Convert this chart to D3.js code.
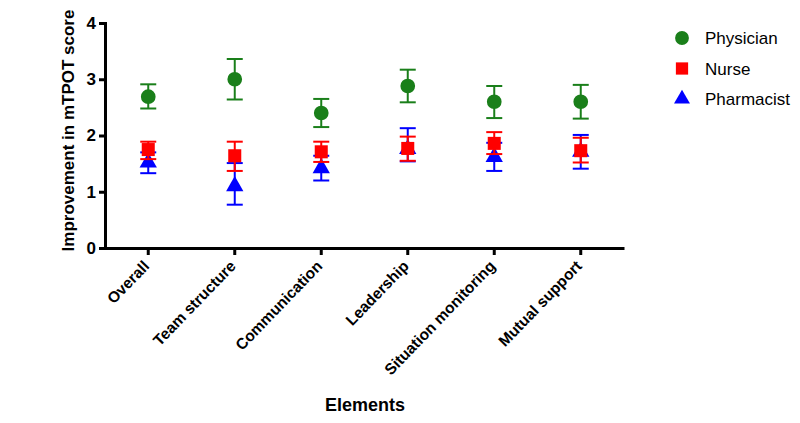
<!DOCTYPE html>
<html>
<head>
<meta charset="utf-8">
<script src="https://cdn.jsdelivr.net/npm/d3@7"></script>
<style>
  body { margin: 0; background: #fff; }
  text { font-family: "Liberation Sans", Arial, sans-serif; }
</style>
</head>
<body>
<div id="chart"></div>
<script>
const elements = ["Overall", "Team structure", "Communication", "Leadership", "Situation monitoring", "Mutual support"];

// mean, lower, upper for each group
const physicianMean = [2.69, 3.00, 2.40, 2.88, 2.60, 2.60];
const physicianLow  = [2.48, 2.64, 2.15, 2.59, 2.31, 2.30];
const physicianHigh = [2.91, 3.36, 2.65, 3.17, 2.88, 2.90];

const nurseMean = [1.75, 1.64, 1.71, 1.77, 1.86, 1.73];
const nurseLow  = [1.58, 1.37, 1.53, 1.55, 1.67, 1.52];
const nurseHigh = [1.89, 1.89, 1.89, 1.98, 2.06, 1.96];

const pharmMean = [1.52, 1.10, 1.42, 1.76, 1.62, 1.71];
const pharmLow  = [1.33, 0.77, 1.20, 1.54, 1.37, 1.41];
const pharmHigh = [1.70, 1.51, 1.64, 2.13, 1.87, 2.01];

const yTicks = [0, 1, 2, 3, 4];

const series = [
  { name: "Physician", color: "#1a7f1a", shape: d3.symbolCircle, mean: physicianMean, low: physicianLow, high: physicianHigh },
  { name: "Nurse", color: "#ff0000", shape: d3.symbolSquare, mean: nurseMean, low: nurseLow, high: nurseHigh },
  { name: "Pharmacist", color: "#0000ff", shape: d3.symbolTriangle, mean: pharmMean, low: pharmLow, high: pharmHigh }
];

const W = 800, H = 423;
const margin = { top: 23, left: 105, right: 176, bottom: 175 };

const svg = d3.select("#chart").append("svg")
  .attr("width", W)
  .attr("height", H);

const x = d3.scaleBand()
  .domain(elements)
  .range([margin.left, W - margin.right]);

const y = d3.scaleLinear()
  .domain([0, 4])
  .range([H - margin.bottom, margin.top]);

// y axis
const yAxis = svg.append("g")
  .attr("transform", `translate(${margin.left},0)`)
  .call(d3.axisLeft(y).tickValues(yTicks).tickFormat(d3.format("d")).tickSize(6).tickPadding(3));
yAxis.select(".domain").attr("stroke-width", 3);
yAxis.selectAll(".tick line").attr("stroke-width", 3);
yAxis.selectAll(".tick text")
  .style("font-size", "17px")
  .style("font-weight", "bold")
  .attr("fill", "#000");

// x axis
const xAxis = svg.append("g")
  .attr("transform", `translate(0,${y(0)})`)
  .call(d3.axisBottom(x).tickSize(7).tickSizeOuter(0));
xAxis.select(".domain").attr("stroke-width", 3);
xAxis.selectAll(".tick line").attr("stroke-width", 3);
xAxis.selectAll(".tick text")
  .style("font-size", "15.5px")
  .style("font-weight", "bold")
  .attr("fill", "#000")
  .attr("text-anchor", "end")
  .attr("dy", null)
  .attr("y", 0)
  .attr("transform", "translate(2,19) rotate(-46)");

// axis titles
svg.append("text")
  .attr("transform", `translate(74,${(y(0) + y(4)) / 2 - 5}) rotate(-90)`)
  .attr("text-anchor", "middle")
  .style("font-size", "17px")
  .style("font-weight", "bold")
  .text("Improvement in mTPOT score");

svg.append("text")
  .attr("x", 365)
  .attr("y", 411)
  .attr("text-anchor", "middle")
  .style("font-size", "18px")
  .style("font-weight", "bold")
  .text("Elements");

// error bars and markers, pharmacist drawn first so nurse squares sit on top
const cap = 8;
series.slice().reverse().forEach(s => {
  const g = svg.append("g");
  const rows = elements.map((e, i) => ({ e, m: s.mean[i], lo: s.low[i], hi: s.high[i] }));
  const cx = d => x(d.e) + x.bandwidth() / 2;

  g.selectAll(".stem").data(rows).join("line")
    .attr("x1", cx).attr("x2", cx)
    .attr("y1", d => y(d.lo)).attr("y2", d => y(d.hi))
    .attr("stroke", s.color).attr("stroke-width", 2);
  g.selectAll(".capHi").data(rows).join("line")
    .attr("x1", d => cx(d) - cap).attr("x2", d => cx(d) + cap)
    .attr("y1", d => y(d.hi)).attr("y2", d => y(d.hi))
    .attr("stroke", s.color).attr("stroke-width", 2);
  g.selectAll(".capLo").data(rows).join("line")
    .attr("x1", d => cx(d) - cap).attr("x2", d => cx(d) + cap)
    .attr("y1", d => y(d.lo)).attr("y2", d => y(d.lo))
    .attr("stroke", s.color).attr("stroke-width", 2);
  g.selectAll(".pt").data(rows).join("path")
    .attr("d", d3.symbol().type(s.shape).size(s.shape === d3.symbolTriangle ? 130 : 170))
    .attr("transform", d => `translate(${cx(d)},${y(d.m)})`)
    .attr("fill", s.color);
});

// legend
const legend = svg.append("g").attr("transform", "translate(682,38)");
series.forEach((s, i) => {
  const row = legend.append("g").attr("transform", `translate(0,${i * 30.5})`);
  row.append("path")
    .attr("d", d3.symbol().type(s.shape).size(s.shape === d3.symbolTriangle ? 110 : 150))
    .attr("fill", s.color);
  row.append("text")
    .attr("x", 23)
    .attr("y", 6)
    .style("font-size", "17px")
    .text(s.name);
});
</script>
</body>
</html>
